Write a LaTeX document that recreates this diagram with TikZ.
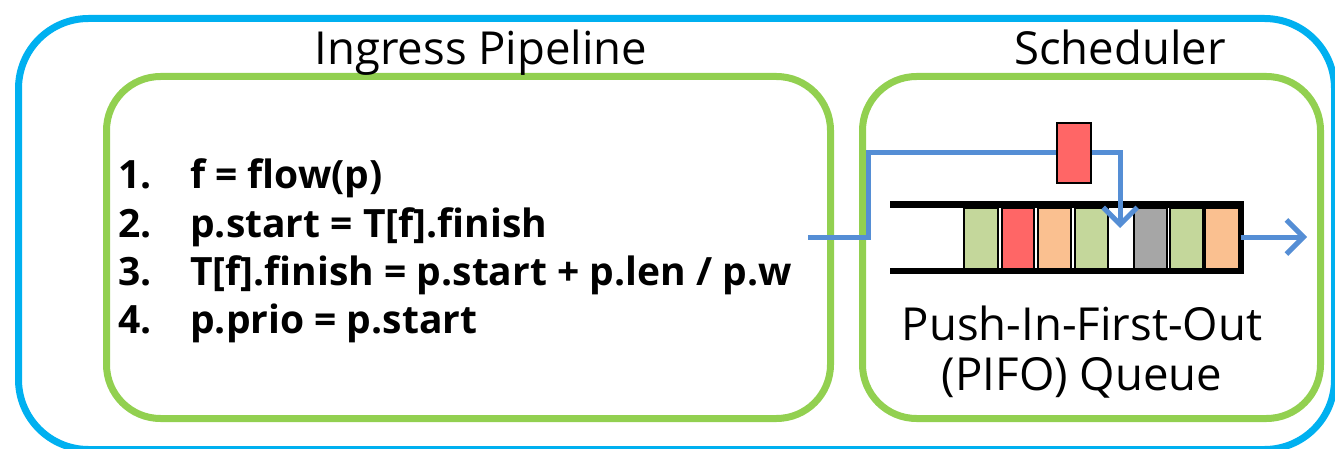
\documentclass[tikz,border=0pt]{standalone}
\usepackage{fontspec}
\setmainfont{Open Sans}
\usetikzlibrary{arrows.meta}
\definecolor{outerblue}{RGB}{0,176,240}
\definecolor{boxgreen}{RGB}{146,208,80}
\definecolor{flowblue}{RGB}{85,142,213}
\definecolor{cgreen}{RGB}{196,215,155}
\definecolor{cred}{RGB}{255,102,102}
\definecolor{corange}{RGB}{250,192,144}
\definecolor{cgray}{RGB}{166,166,166}
\tikzset{
  outerbox/.style={draw=outerblue, line width=7pt, rounded corners=70pt, inner sep=0pt, anchor=north west},
  stagebox/.style={draw=boxgreen, line width=7pt, rounded corners=54pt, inner sep=0pt, anchor=north west},
  title/.style={font=\fontsize{45.5}{52}\selectfont, anchor=base, inner sep=0pt},
  codetxt/.style={font=\fontsize{39}{46}\selectfont\bfseries, anchor=base west, inner sep=0pt},
  cell/.style={draw=black, line width=2pt, inner sep=0pt, anchor=north west, minimum height=61pt},
  flow/.style={draw=flowblue, line width=5pt},
  qwall/.style={draw=black, line width=6pt},
  barb/.style={-{Straight Barb[length=17pt,width=34pt,line width=5pt]}},
}
\begin{document}
\begin{tikzpicture}[x=1pt,y=-1pt]
\useasboundingbox (0,0) rectangle (1335,449);
\node[outerbox, minimum width=1316pt, minimum height=431pt] (outer) at (15,15) {};
\node[stagebox, minimum width=724pt, minimum height=342pt] (ingress) at (103,73) {};
\node[stagebox, minimum width=458pt, minimum height=342pt] (sched) at (859,73) {};
\node[title] (t1) at (481,65) {Ingress Pipeline};
\node[title] (t2) at (1120,65) {Scheduler};
\node[title] (q1) at (1082,340) {Push-In-First-Out};
\node[title] (q2) at (1082,390) {(PIFO) Queue};
\node[codetxt] (n1) at (118,189) {1.};
\node[codetxt] (n2) at (118,237) {2.};
\node[codetxt] (n3) at (118,285) {3.};
\node[codetxt] (n4) at (118,333) {4.};
\node[codetxt] (l1) at (190,189) {f = flow(p)};
\node[codetxt] (l2) at (190,237) {p.start = T[f].finish};
\node[codetxt] (l3) at (190,285) {T[f].finish = p.start + p.len / p.w};
\node[codetxt] (l4) at (190,333) {p.prio = p.start};
% queue cells
\node[cell, fill=cgreen, minimum width=34pt] (c1) at (963,207) {};
\node[cell, fill=cred, minimum width=32pt] (c2) at (1001,207) {};
\node[cell, fill=corange, minimum width=33pt] (c3) at (1037,207) {};
\node[cell, fill=cgreen, minimum width=33pt] (c4) at (1074,207) {};
\node[inner sep=0pt, anchor=north west, minimum width=24pt, minimum height=61pt] (slot) at (1108,207) {};
\node[cell, fill=cgray, minimum width=33pt] (c5) at (1133,207) {};
\node[cell, fill=cgreen, minimum width=33pt] (c6) at (1169,207) {};
\node[cell, fill=corange, minimum width=34pt] (c7) at (1204,207) {};
\coordinate (qtl) at (890,204.5);
\coordinate (qtr) at (1240.5,204.5);
\coordinate (qbl) at (890,270.5);
\coordinate (qbr) at (1240.5,270.5);
\draw[qwall] (qtl) -- (qtr) -- (qbr) -- (qbl);
% incoming packet
\coordinate (in) at (808,237);
\coordinate (up) at (868,153);
\draw[flow, barb] (in) -- (in -| up) -- (up) -- (slot.north |- up) -- ([yshift=-21pt]slot.north);
\node[draw=black, line width=2pt, fill=cred, inner sep=0pt, minimum width=34pt, minimum height=60pt] (pkt) at (1074,153) {};
% outgoing
\coordinate (out) at (1307,237);
\draw[flow, barb] (qtr |- out) -- (out);
\end{tikzpicture}
\end{document}
